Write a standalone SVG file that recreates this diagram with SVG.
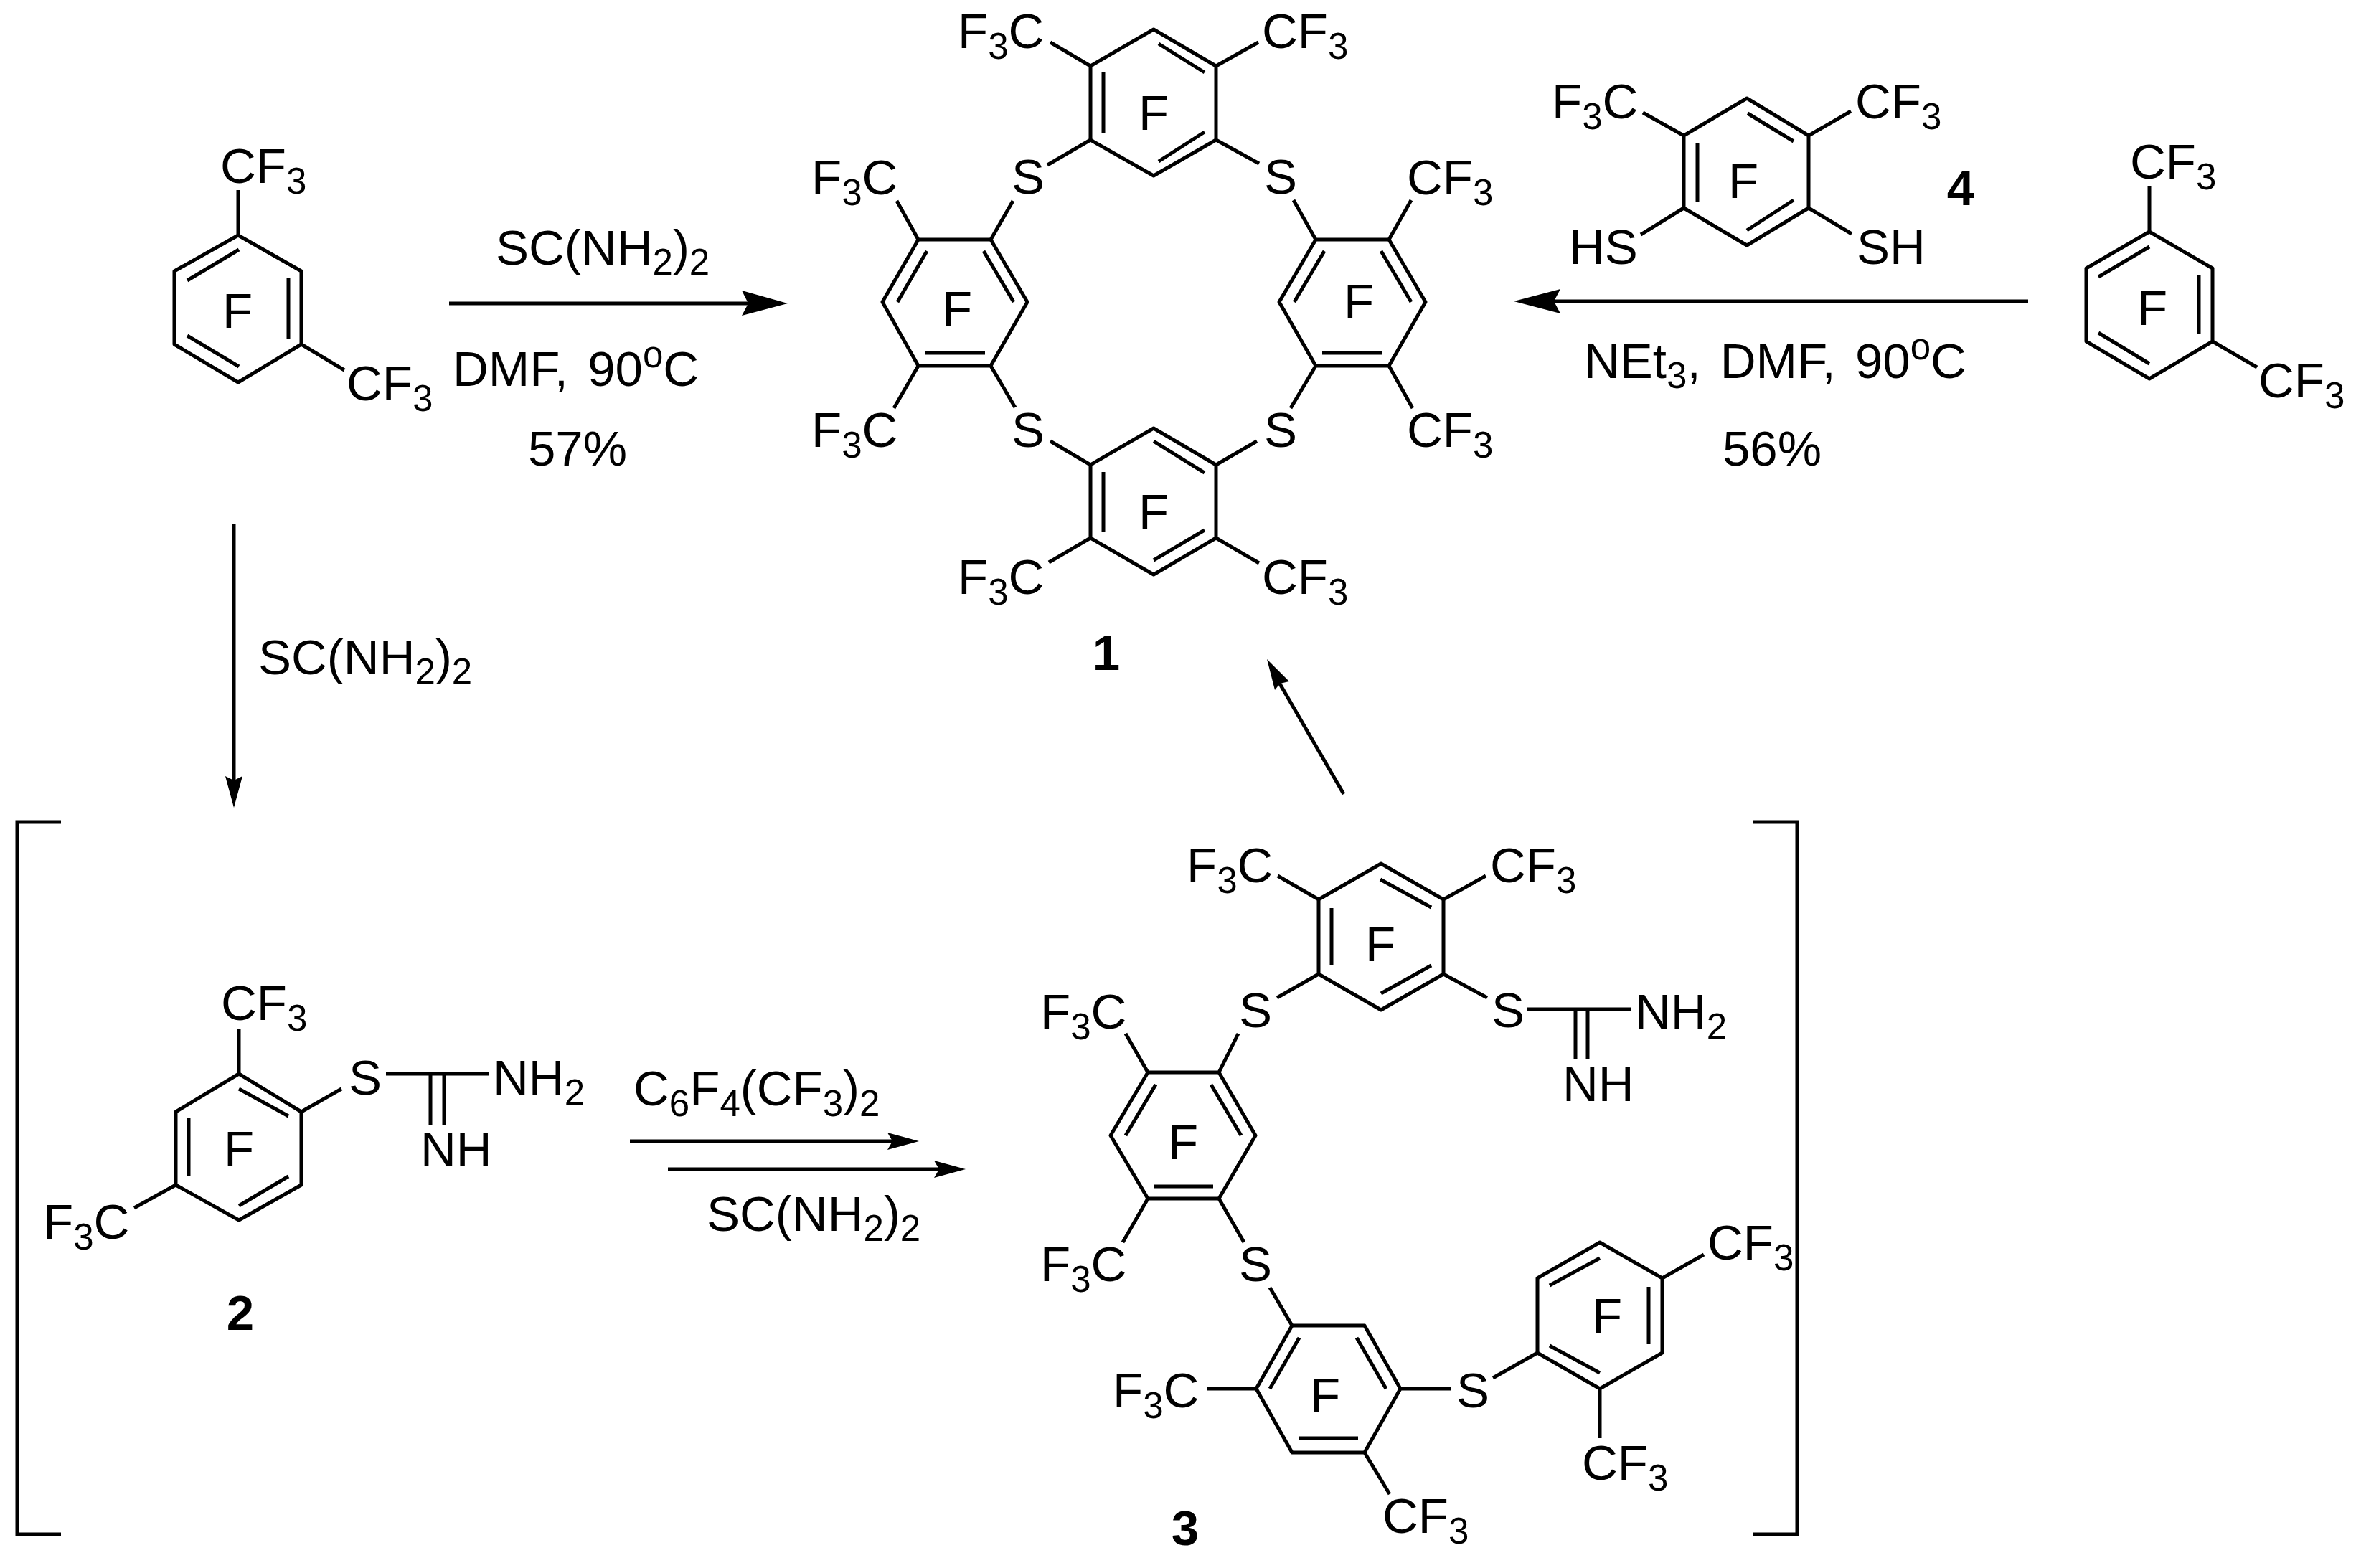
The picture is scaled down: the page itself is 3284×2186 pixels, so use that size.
<svg xmlns="http://www.w3.org/2000/svg" width="3284" height="2186" viewBox="0 0 3284 2186">
<style>
text{font-family:"Liberation Sans",Arial,sans-serif;font-size:69px;fill:#000}
.m{text-anchor:middle}
.n{font-weight:bold}
.s{font-size:51px}
.w{word-spacing:8px}
.bond{fill:none;stroke:#000;stroke-width:5;stroke-linejoin:round}
.arrow{fill:none;stroke:#000;stroke-width:5}
.head{fill:#000;stroke:none}
.bracket{fill:none;stroke:#000;stroke-width:5}
</style>
<rect width="3284" height="2186" fill="#fff"/>
<g id="connectors">
<path class="arrow" d="M626 423H1050"/>
<polygon class="head" points="1098,423 1034,405 1043,423 1034,440"/>
<path class="arrow" d="M2827 420H2160"/>
<polygon class="head" points="2110,420 2175,403 2166,420 2175,437"/>
<path class="arrow" d="M326 730V1090"/>
<polygon class="head" points="326,1126 314,1082 326,1088 338,1082"/>
<path class="arrow" d="M1873 1107L1782 950"/>
<polygon class="head" points="1766,919 1777,962 1784,953 1797,950"/>
<path class="arrow" d="M878 1591H1250"/>
<polygon class="head" points="1281,1591 1237,1579 1244,1591 1237,1603"/>
<path class="arrow" d="M931 1630H1315"/>
<polygon class="head" points="1346,1630 1302,1618 1309,1630 1302,1642"/>
</g>
<g id="brackets">
<path class="bracket" d="M85 1146H24V2139H85"/>
<path class="bracket" d="M2444 1146H2505V2139H2444"/>
</g>
<g id="reagent-top-left">
<text x="691" y="369">SC(NH<tspan class="s" dy="14">2</tspan><tspan dy="-14">)</tspan><tspan class="s" dy="14">2</tspan></text>
<text class="w" x="631" y="538">DMF, 90<tspan class="s" dy="-26">o</tspan><tspan dy="26">C</tspan></text>
<text x="736" y="649">57%</text>
</g>
<g id="reagent-top-right">
<text class="w" x="2208" y="527">NEt<tspan class="s" dy="14">3</tspan><tspan dy="-14">, DMF, 90</tspan><tspan class="s" dy="-26">o</tspan><tspan dy="26">C</tspan></text>
<text x="2401" y="649">56%</text>
</g>
<g id="reagent-down">
<text x="360" y="940">SC(NH<tspan class="s" dy="14">2</tspan><tspan dy="-14">)</tspan><tspan class="s" dy="14">2</tspan></text>
</g>
<g id="reagent-bottom">
<text x="883" y="1541">C<tspan class="s" dy="15">6</tspan><tspan dy="-15">F</tspan><tspan class="s" dy="15">4</tspan><tspan dy="-15">(CF</tspan><tspan class="s" dy="15">3</tspan><tspan dy="-15">)</tspan><tspan class="s" dy="15">2</tspan></text>
<text x="985" y="1716">SC(NH<tspan class="s" dy="14">2</tspan><tspan dy="-14">)</tspan><tspan class="s" dy="14">2</tspan></text>
</g>
<g id="start-left">
<path class="bond" d="M332 328L420 378V480L332 533L243 480V378ZM333 348L261 391M261 468L333 511M402 388V472M332 328V265M420 480L480 516"/>
<text class="m" x="331" y="457">F</text>
<text x="307" y="255">CF<tspan class="s" dy="15">3</tspan></text>
<text x="483" y="558">CF<tspan class="s" dy="15">3</tspan></text>
</g>
<g id="start-right">
<path class="bond" d="M2996 323L3084 374V476L2996 528L2908 476V374ZM2996 344L2925 386M2925 464L2996 507M3065 384V466M2996 323V260M3084 476L3146 512"/>
<text class="m" x="3000" y="453">F</text>
<text x="2969" y="249">CF<tspan class="s" dy="15">3</tspan></text>
<text x="3148" y="554">CF<tspan class="s" dy="15">3</tspan></text>
</g>
<g id="compound-4">
<path class="bond" d="M2435 137L2521 189V290L2435 342L2347 290V189ZM2366 199V282M2436 158L2500 197M2500 279L2435 321M2347 189L2290 157M2521 189L2580 155M2347 290L2287 327M2521 290L2581 326"/>
<text class="m" x="2430" y="276">F</text>
<text x="2163" y="165">F<tspan class="s" dy="15">3</tspan><tspan dy="-15">C</tspan></text>
<text x="2586" y="165">CF<tspan class="s" dy="15">3</tspan></text>
<text x="2187" y="368">HS</text>
<text x="2588" y="368">SH</text>
<text class="m n" x="2733" y="286">4</text>
</g>
<g id="compound-1">
<path class="bond" d="M1608 41L1695 92V195L1608 245L1520 195V92ZM1538 101V186M1615 61L1679 101M1615 225L1679 184M1520 92L1464 59M1695 92L1754 59M1520 195L1460 230M1695 195L1755 228"/>
<path class="bond" d="M1230 421L1280 334H1381L1432 421L1381 510H1280ZM1292 350L1251 421M1371 350L1413 421M1290 492H1373M1381 334L1412 280M1280 334L1250 280M1381 510L1415 568M1280 510L1246 569"/>
<path class="bond" d="M1783 421L1834 334H1936L1987 421L1936 510H1834ZM1846 350L1804 421M1925 350L1967 421M1843 492H1927M1834 334L1803 279M1936 334L1967 279M1834 510L1799 569M1936 510L1969 569"/>
<path class="bond" d="M1608 597L1695 648V750L1608 801L1520 750V648ZM1538 658V741M1608 615L1679 659M1608 781L1679 739M1520 648L1464 615M1695 648L1752 615M1520 750L1462 784M1695 750L1755 785"/>
<text class="m" x="1608" y="181">F</text>
<text class="m" x="1334" y="454">F</text>
<text class="m" x="1894" y="444">F</text>
<text class="m" x="1608" y="737">F</text>
<text x="1335" y="67">F<tspan class="s" dy="15">3</tspan><tspan dy="-15">C</tspan></text>
<text x="1759" y="67">CF<tspan class="s" dy="15">3</tspan></text>
<text x="1131" y="271">F<tspan class="s" dy="15">3</tspan><tspan dy="-15">C</tspan></text>
<text x="1961" y="271">CF<tspan class="s" dy="15">3</tspan></text>
<text x="1131" y="623">F<tspan class="s" dy="15">3</tspan><tspan dy="-15">C</tspan></text>
<text x="1961" y="623">CF<tspan class="s" dy="15">3</tspan></text>
<text x="1335" y="828">F<tspan class="s" dy="15">3</tspan><tspan dy="-15">C</tspan></text>
<text x="1759" y="828">CF<tspan class="s" dy="15">3</tspan></text>
<text class="m" x="1433" y="270">S</text>
<text class="m" x="1785" y="270">S</text>
<text class="m" x="1433" y="623">S</text>
<text class="m" x="1785" y="623">S</text>
<text class="m n" x="1542" y="934">1</text>
</g>
<g id="compound-2">
<path class="bond" d="M333 1497L420 1550V1652L333 1701L245 1652V1550ZM333 1518L402 1556M263 1558V1640M402 1640L333 1681M333 1497V1435M245 1652L187 1684M420 1550L476 1518M538 1497H681M600 1497V1569M619 1497V1569"/>
<text class="m" x="333" y="1625">F</text>
<text class="m" x="509" y="1526">S</text>
<text x="308" y="1422">CF<tspan class="s" dy="15">3</tspan></text>
<text x="60" y="1727">F<tspan class="s" dy="15">3</tspan><tspan dy="-15">C</tspan></text>
<text x="687" y="1526">NH<tspan class="s" dy="15">2</tspan></text>
<text x="586" y="1626">NH</text>
<text class="m n" x="335" y="1854">2</text>
</g>
<g id="compound-3">
<path class="bond" d="M1925 1204L2012 1254V1358L1925 1408L1838 1358V1254ZM1856 1266V1346M1924 1226L1995 1265M1995 1346L1925 1385M1838 1254L1781 1221M2012 1254L2071 1221M1838 1358L1780 1391M2012 1358L2073 1391M2128 1407H2273M2196 1407V1477M2213 1407V1477"/>
<path class="bond" d="M1548 1583L1600 1495H1699L1750 1583L1699 1671H1600ZM1611 1512L1569 1583M1688 1512L1730 1583M1609 1654H1691M1699 1495L1726 1441M1600 1495L1569 1441M1699 1671L1734 1732M1600 1671L1565 1732"/>
<path class="bond" d="M1751 1936L1801 1848H1902L1952 1936L1902 2025H1801ZM1811 1865L1770 1936M1891 1865L1932 1936M1811 2005H1893M1770 1795L1801 1848M1751 1936H1682M1952 1936H2023M1902 2025L1937 2083"/>
<path class="bond" d="M2230 1732L2317 1782V1886L2230 1936L2143 1886V1782ZM2160 1792L2230 1754M2298 1794V1874M2160 1876L2230 1914M2317 1782L2375 1749M2230 1936V2005M2143 1886L2081 1921"/>
<text class="m" x="1924" y="1340">F</text>
<text class="m" x="1649" y="1616">F</text>
<text class="m" x="1847" y="1969">F</text>
<text class="m" x="2240" y="1858">F</text>
<text x="1654" y="1230">F<tspan class="s" dy="15">3</tspan><tspan dy="-15">C</tspan></text>
<text x="2077" y="1230">CF<tspan class="s" dy="15">3</tspan></text>
<text class="m" x="1750" y="1432">S</text>
<text class="m" x="2102" y="1432">S</text>
<text x="2279" y="1434">NH<tspan class="s" dy="15">2</tspan></text>
<text x="2178" y="1535">NH</text>
<text x="1450" y="1434">F<tspan class="s" dy="15">3</tspan><tspan dy="-15">C</tspan></text>
<text x="1450" y="1786">F<tspan class="s" dy="15">3</tspan><tspan dy="-15">C</tspan></text>
<text class="m" x="1750" y="1786">S</text>
<text x="1551" y="1962">F<tspan class="s" dy="15">3</tspan><tspan dy="-15">C</tspan></text>
<text x="1927" y="2137">CF<tspan class="s" dy="15">3</tspan></text>
<text class="m" x="2053" y="1962">S</text>
<text x="2380" y="1756">CF<tspan class="s" dy="15">3</tspan></text>
<text x="2205" y="2063">CF<tspan class="s" dy="15">3</tspan></text>
<text class="m n" x="1652" y="2154">3</text>
</g>
</svg>
